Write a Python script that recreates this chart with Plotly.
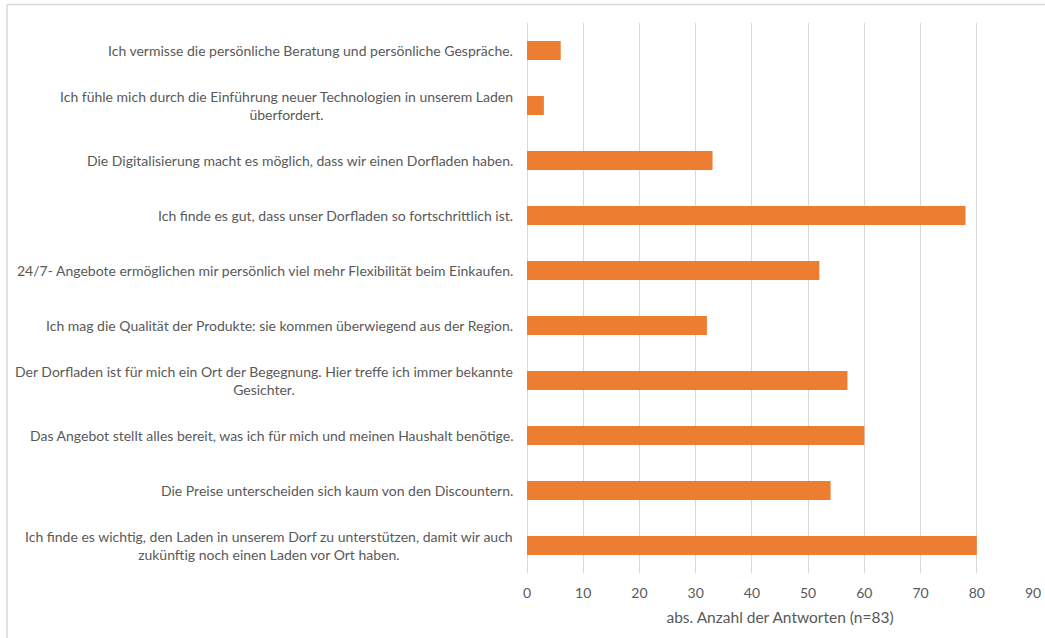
import plotly.graph_objects as go

# Survey statements (top to bottom) and number of responses
statements = [
    "Ich vermisse die persönliche Beratung und persönliche Gespräche.",
    "Ich fühle mich durch die Einführung neuer Technologien in unserem Laden<br>überfordert.",
    "Die Digitalisierung macht es möglich, dass wir einen Dorfladen haben.",
    "Ich finde es gut, dass unser Dorfladen so fortschrittlich ist.",
    "24/7- Angebote ermöglichen mir persönlich viel mehr Flexibilität beim Einkaufen.",
    "Ich mag die Qualität der Produkte: sie kommen überwiegend aus der Region.",
    "Der Dorfladen ist für mich ein Ort der Begegnung. Hier treffe ich immer bekannte<br>Gesichter.",
    "Das Angebot stellt alles bereit, was ich für mich und meinen Haushalt benötige.",
    "Die Preise unterscheiden sich kaum von den Discountern.",
    "Ich finde es wichtig, den Laden in unserem Dorf zu unterstützen, damit wir auch<br>zukünftig noch einen Laden vor Ort haben.",
]
responses = [6, 3, 33, 78, 52, 32, 57, 60, 54, 80]
x_ticks = [0, 10, 20, 30, 40, 50, 60, 70, 80, 90]
x_title = "abs. Anzahl der Antworten (n=83)"

W, H = 1045, 638
L, R, T, B = 527, 12, 23, 65
pw, ph = W - L - R, H - T - B

FONT = "Lato, Calibri, Carlito, sans-serif"
TEXT = "#595959"
GRID = "#d9d9d9"

fig = go.Figure(
    go.Bar(
        x=responses,
        y=statements,
        orientation="h",
        marker=dict(color="#ED7D31", line=dict(width=0)),
        hoverinfo="x+y",
    )
)

# Category labels: right-aligned to the axis, multi-line labels centred
for s in statements:
    fig.add_annotation(
        x=0, xref="paper", y=s, yref="y",
        text=s, showarrow=False,
        xanchor="right", xshift=-12, align="center",
        font=dict(family=FONT, size=14, color=TEXT),
    )

# Chart frame (top and left edges)
fig.add_shape(type="line", xref="paper", yref="paper",
              x0=(7 - L) / pw, x1=(W - L) / pw,
              y0=(H - B - 4.5) / ph, y1=(H - B - 4.5) / ph,
              line=dict(color=GRID, width=1.5))
fig.add_shape(type="line", xref="paper", yref="paper",
              x0=(7 - L) / pw, x1=(7 - L) / pw,
              y0=(H - B - 4.5) / ph, y1=-B / ph,
              line=dict(color=GRID, width=1.5))

fig.update_layout(
    width=W, height=H,
    margin=dict(l=L, r=R, t=T, b=B, autoexpand=False),
    paper_bgcolor="white", plot_bgcolor="white",
    bargap=0.655,
    showlegend=False,
    font=dict(family=FONT, color=TEXT),
    xaxis=dict(
        range=[0, 90],
        tickvals=x_ticks,
        ticktext=[str(v) for v in x_ticks],
        showgrid=True, gridcolor=GRID, gridwidth=1,
        zeroline=True, zerolinecolor=GRID, zerolinewidth=1,
        showline=False,
        ticks="", ticklen=0,
        ticklabelstandoff=10,
        tickfont=dict(family=FONT, size=14, color=TEXT),
        title=dict(text=x_title, font=dict(family=FONT, size=15.5, color=TEXT), standoff=12),
        automargin=False,
        fixedrange=True,
    ),
    yaxis=dict(
        autorange="reversed",
        showticklabels=False,
        showgrid=False, zeroline=False, showline=False, ticks="",
        automargin=False,
        fixedrange=True,
    ),
)

fig.write_html("out.html")
